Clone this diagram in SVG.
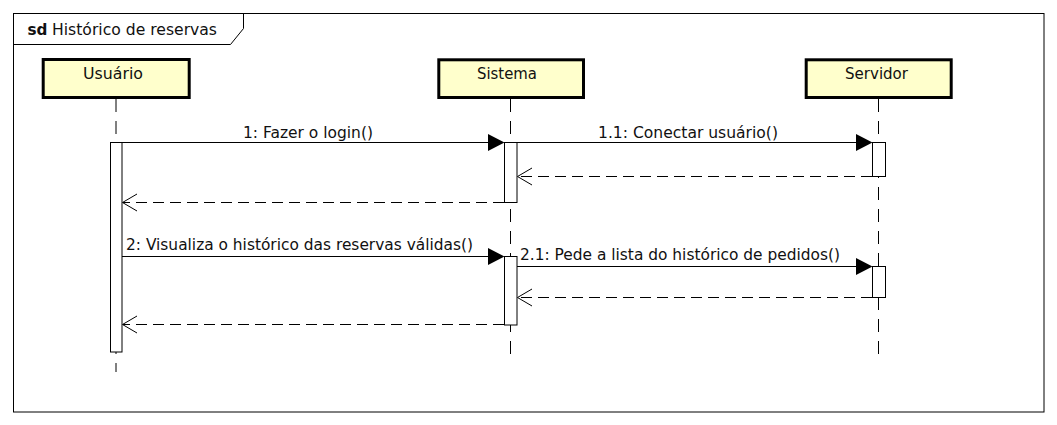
<svg xmlns="http://www.w3.org/2000/svg" width="1057" height="425" viewBox="0 0 1057 425">
<style>
text{font-family:"DejaVu Sans",sans-serif;font-size:15.5px;fill:#111}
.box{fill:#ffffcc;stroke:#000;stroke-width:3}
.act{fill:#fff;stroke:#000;stroke-width:1}
.life{stroke:#000;stroke-width:1;stroke-dasharray:13,9;fill:none}
.msg{stroke:#000;stroke-width:1;fill:none}
.ret{stroke:#000;stroke-width:1;stroke-dasharray:11,6;fill:none}
.head{fill:#000}
.open{stroke:#000;stroke-width:1;fill:none}
</style>
<rect width="1057" height="425" fill="#fff"/>
<g id="frame">
<rect x="13.5" y="13.5" width="1030.5" height="398.5" fill="none" stroke="#000" stroke-width="1"/>
<path d="M13.5 44.5 H230.5 L243.5 28.5 V13.5" fill="none" stroke="#000" stroke-width="1"/>
<text x="27.5" y="35" font-weight="bold" textLength="20" lengthAdjust="spacingAndGlyphs">sd</text>
<text x="52" y="35" textLength="165" lengthAdjust="spacingAndGlyphs">Histórico de reservas</text>
</g>
<g id="lifelines">
<line class="life" x1="116" y1="99" x2="116" y2="372"/>
<line class="life" x1="510.5" y1="99" x2="510.5" y2="354"/>
<line class="life" x1="878.5" y1="99" x2="878.5" y2="354"/>
</g>
<g id="usuario">
<rect class="box" x="43.2" y="59.5" width="146" height="38"/>
<text x="83" y="79" textLength="60" lengthAdjust="spacingAndGlyphs">Usuário</text>
<rect class="act" x="110.5" y="142.5" width="11.5" height="209.5"/>
</g>
<g id="sistema">
<rect class="box" x="438.8" y="59.8" width="144.7" height="37.7"/>
<text x="477" y="79" textLength="60" lengthAdjust="spacingAndGlyphs">Sistema</text>
<rect class="act" x="504.5" y="142.5" width="12.5" height="60"/>
<rect class="act" x="504.5" y="256.5" width="12.5" height="68.5"/>
</g>
<g id="servidor">
<rect class="box" x="806.2" y="59.8" width="145" height="37.7"/>
<text x="845" y="79" textLength="63" lengthAdjust="spacingAndGlyphs">Servidor</text>
<rect class="act" x="872.5" y="142.5" width="13" height="34"/>
<rect class="act" x="872.5" y="266.5" width="13" height="31"/>
</g>
<g id="connectors">
<line class="msg" x1="122" y1="142.5" x2="490" y2="142.5"/>
<path class="head" d="M488 134 L504.5 142.5 L488 151 Z"/>
<text x="243" y="137.5" textLength="130" lengthAdjust="spacingAndGlyphs">1: Fazer o login()</text>
<line class="msg" x1="517" y1="142.5" x2="858" y2="142.5"/>
<path class="head" d="M856 134 L872.5 142.5 L856 151 Z"/>
<text x="598" y="137.5" textLength="180" lengthAdjust="spacingAndGlyphs">1.1: Conectar usuário()</text>
<line class="ret" x1="872" y1="176.5" x2="518" y2="176.5"/>
<path class="open" d="M532 168 L517.5 176.5 L532 185"/>
<line class="ret" x1="504" y1="202.5" x2="123" y2="202.5"/>
<path class="open" d="M137 194 L122.5 202.5 L137 211"/>
<line class="msg" x1="122" y1="256.5" x2="490" y2="256.5"/>
<path class="head" d="M488 248 L504.5 256.5 L488 265 Z"/>
<text x="126" y="250" textLength="347" lengthAdjust="spacingAndGlyphs">2: Visualiza o histórico das reservas válidas()</text>
<line class="msg" x1="517" y1="266.5" x2="858" y2="266.5"/>
<path class="head" d="M856 258 L872.5 266.5 L856 275 Z"/>
<text x="520" y="260" textLength="320" lengthAdjust="spacingAndGlyphs">2.1: Pede a lista do histórico de pedidos()</text>
<line class="ret" x1="872" y1="297.5" x2="518" y2="297.5"/>
<path class="open" d="M532 289 L517.5 297.5 L532 306"/>
<line class="ret" x1="504" y1="324.5" x2="123" y2="324.5"/>
<path class="open" d="M137 316 L122.5 324.5 L137 333"/>
</g>
</svg>
